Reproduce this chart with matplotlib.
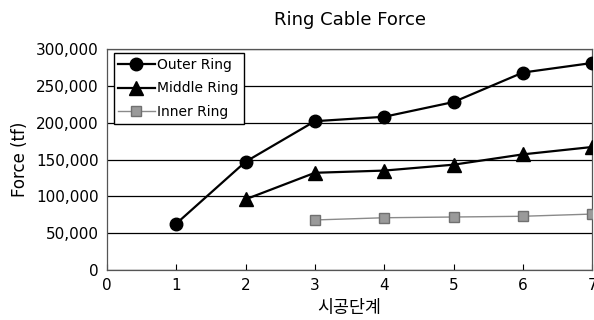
import matplotlib
matplotlib.use("Agg")
import matplotlib.pyplot as plt
from matplotlib.ticker import FuncFormatter

plt.rcParams['font.family'] = ['DejaVu Sans', 'Noto Sans CJK KR']

stages = [1, 2, 3, 4, 5, 6, 7]
outer = [63000, 147000, 202000, 208000, 228000, 268000, 281000]
middle_x = [2, 3, 4, 5, 6, 7]
middle = [96000, 132000, 135000, 143000, 157000, 167000]
inner_x = [3, 4, 5, 6, 7]
inner = [68000, 71000, 72000, 73000, 76000]

fig = plt.figure(figsize=(5.94, 3.2), dpi=100)
ax = fig.add_axes([0.180, 0.156, 0.817, 0.691])

ax.plot(stages, outer, color='black', lw=1.6, marker='o', ms=9,
        label='Outer Ring', zorder=4)
ax.plot(middle_x, middle, color='black', lw=1.6, marker='^', ms=9.5,
        label='Middle Ring', zorder=4)
ax.plot(inner_x, inner, color='#8a8a8a', lw=1.0, marker='s', ms=7.5,
        mfc='#9a9a9a', mec='#707070', label='Inner Ring', zorder=3)

ax.set_xlim(0, 7)
ax.set_ylim(0, 300000)
ax.set_yticks(range(0, 300001, 50000))
ax.set_xticks(range(0, 8))
ax.yaxis.set_major_formatter(FuncFormatter(lambda v, p: f"{int(v):,}"))
ax.grid(axis='y', color='black', lw=0.9)
ax.set_axisbelow(True)

ax.tick_params(axis='x', direction='in', length=4, labelsize=11, pad=6)
ax.tick_params(axis='y', length=0, labelsize=11, pad=6)
for s in ax.spines.values():
    s.set_color('#555555')
    s.set_linewidth(0.9)

ax.set_title('Ring Cable Force', fontsize=13, pad=17)
ax.set_xlabel('시공단계', fontsize=12.5, labelpad=4)
ax.set_ylabel('Force (tf)', fontsize=12, labelpad=5)

leg = ax.legend(loc='upper left', bbox_to_anchor=(0.008, 0.995), fontsize=10,
                frameon=True, fancybox=False, edgecolor='black',
                handlelength=2.6, handletextpad=0.2, labelspacing=0.7,
                borderpad=0.35, borderaxespad=0.2)
leg.get_frame().set_linewidth(1.0)
leg.get_frame().set_alpha(1)

fig.savefig('out.png', dpi=100)
